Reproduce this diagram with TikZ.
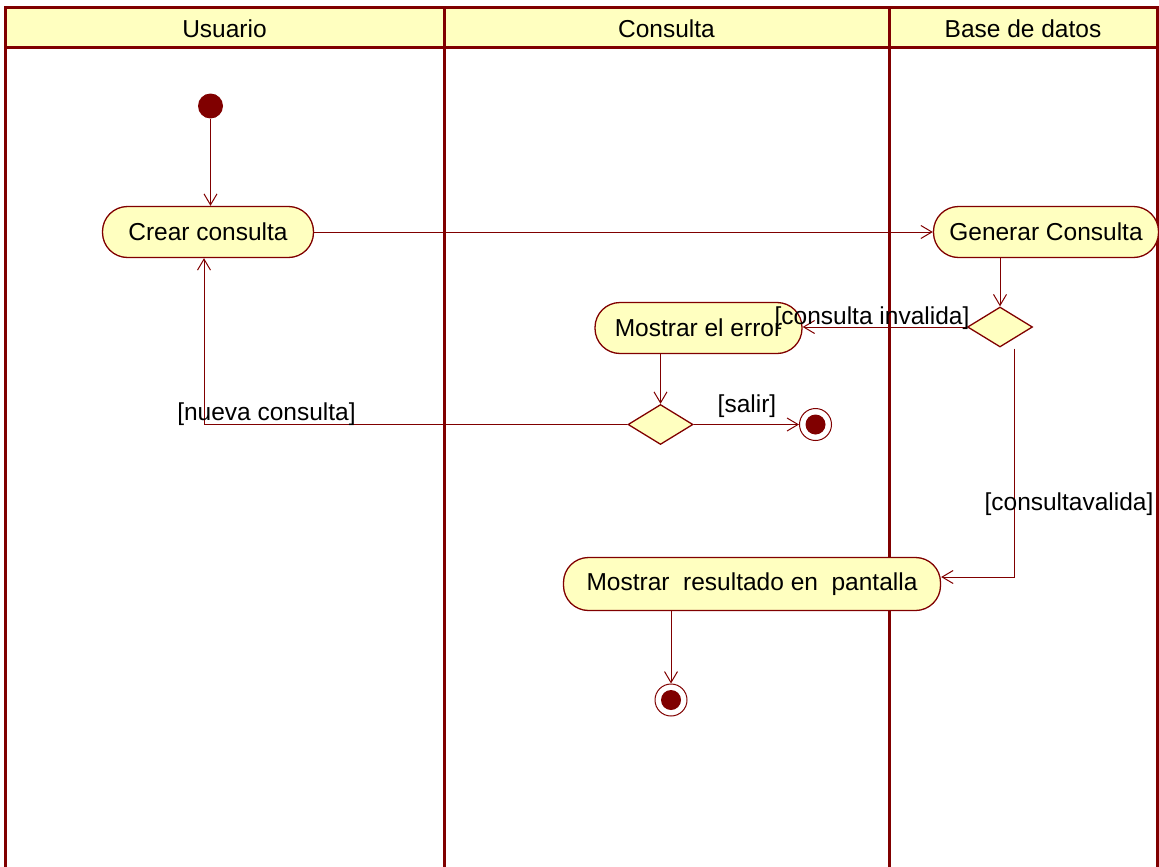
\documentclass[tikz,border=0pt]{standalone}
\usepackage{fontspec}
\setmainfont{Liberation Sans}
\usetikzlibrary{arrows.meta,shapes.geometric}
\definecolor{umlred}{RGB}{128,0,0}
\definecolor{umlfill}{RGB}{255,255,192}
\begin{document}
\begin{tikzpicture}[x=1pt,y=-1pt,
  every node/.style={font=\fontsize{24.5}{29}\selectfont, text=black},
  lane/.style={draw=umlred, line width=3pt},
  flow/.style={draw=umlred, line width=1pt, -{Straight Barb[length=11pt,width=13pt,line width=1pt]}},
  activity/.style={draw=umlred, fill=umlfill, line width=1.3pt, rectangle,
    rounded corners=25pt, inner sep=0pt, minimum height=51pt},
  decision/.style={draw=umlred, fill=umlfill, line width=1.3pt, diamond,
    inner sep=0pt, minimum width=65pt, minimum height=40pt},
  initnode/.style={circle, fill=umlred, inner sep=0pt, minimum size=25pt},
  finalnode/.style={circle, draw=umlred, fill=white, line width=1pt,
    inner sep=0pt, minimum size=32pt,
    path picture={\fill[umlred] (path picture bounding box.center) circle (10pt);}},
  guard/.style={inner sep=0pt}
]
\useasboundingbox (0,0) rectangle (1159,867);

% swimlane headers
\fill[umlfill] (5,8) rectangle (1157,48);
\draw[lane] (5,867) -- (5,8) -- (1157,8) -- (1157,867);
\draw[lane] (5,48) -- (1157,48);
\draw[lane] (444,8) -- (444,867);
\draw[lane] (889,8) -- (889,867);
\node (hUsuario) at (224.5,29) {Usuario};
\node (hConsulta) at (666.5,29) {Consulta};
\node (hBase) at (1023,29) {Base de datos};

% activity nodes
\node[initnode] (start) at (210.5,106) {};
\node[activity, minimum width=211pt] (crear) at (208,232) {Crear consulta};
\node[activity, minimum width=225pt] (generar) at (1046,232) {Generar Consulta};
\node[decision] (dbase) at (1000,327) {};
\node[activity, minimum width=207pt] (error) at (698.5,328) {Mostrar el error};
\node[decision] (dconsulta) at (660.5,424.5) {};
\node[finalnode] (endSalir) at (815.5,424.5) {};
\node[activity, minimum width=377pt, minimum height=53pt] (resultado) at (752,584)
  {Mostrar\ \ resultado en\ \ pantalla};
\node[finalnode] (endFin) at (671,700) {};

% transitions
\draw[flow] (start) -- (crear.north -| start);
\draw[flow] (crear.east) -- (generar.west);
\draw[flow] (dbase.north |- generar.south) -- (dbase.north);
\draw[flow] (dbase.west) -- (dbase.west -| error.east);
\draw[flow] (dconsulta.north |- error.south) -- (dconsulta.north);
\draw[flow] (dconsulta.east) -- (endSalir.west);
\draw[flow] (dconsulta.west) -| ([xshift=-4pt]crear.south);
\draw[flow] ([xshift=14pt,yshift=-1pt]dbase.south) |- ([yshift=7pt]resultado.east);
\draw[flow] (resultado.south -| endFin) -- (endFin.north);

% guards
\node[guard] (gInvalida) at (872,318) {[consulta invalida]};
\node[guard] (gSalir) at (747,406) {[salir]};
\node[guard] (gNueva) at (266.5,414) {[nueva consulta]};
\node[guard] (gValida) at (1069,504) {[consultavalida]};
\end{tikzpicture}
\end{document}
